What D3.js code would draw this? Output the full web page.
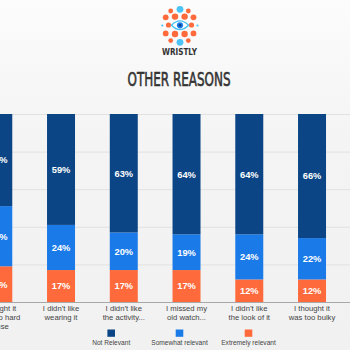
<!DOCTYPE html>
<html>
<head>
<meta charset="utf-8">
<script src="https://cdn.jsdelivr.net/npm/d3@7"></script>
<style>
  body { margin: 0; background: #f3f3f3; }
  svg { display: block; }
</style>
</head>
<body>
<div id="chart"></div>
<script>
var categories = ["too hard", "wearing", "activity", "watch", "look", "bulky"];
var labelLines = [
    ["I thought it", "was too hard", "to use"],
    ["I didn\u2019t like", "wearing it"],
    ["I didn\u2019t like", "the activity..."],
    ["I missed my", "old watch..."],
    ["I didn\u2019t like", "the look of it"],
    ["I thought it", "was too bulky"]
];
var seriesNames = ["Not Relevant", "Somewhat relevant", "Extremely relevant"];
var notRelevant = [49, 59, 63, 64, 64, 66];
var somewhatRelevant = [32, 24, 20, 19, 24, 22];
var extremelyRelevant = [19, 17, 17, 17, 12, 12];
var gridTicks = [20, 40, 60, 80, 100];

function init() {
    var w = 350;
    var h = 350;
    var colors = { "Not Relevant": "#0b4585", "Somewhat relevant": "#1a7ae8", "Extremely relevant": "#fe6a3c" };

    var svg = d3.select("#chart")
        .append("svg")
        .attr("width", w)
        .attr("height", h);

    var grad = svg.append("defs").append("linearGradient")
        .attr("id", "bg").attr("x1", 0).attr("y1", 0).attr("x2", 0).attr("y2", 1);
    grad.append("stop").attr("offset", "0%").attr("stop-color", "#fcfcfc");
    grad.append("stop").attr("offset", "40%").attr("stop-color", "#f4f4f4");
    grad.append("stop").attr("offset", "100%").attr("stop-color", "#f1f1f1");
    svg.append("rect").attr("width", w).attr("height", h).attr("fill", "url(#bg)");

    drawLogo(svg);

    svg.append("text")
        .attr("x", 179).attr("y", 86)
        .attr("text-anchor", "middle")
        .attr("textLength", 103)
        .attr("lengthAdjust", "spacingAndGlyphs")
        .style("font-family", "'DejaVu Sans Condensed', 'DejaVu Sans'")
        .style("font-size", "19.5px")
        .attr("fill", "#333")
        .attr("stroke", "#333")
        .attr("stroke-width", 0.6)
        .text("OTHER REASONS");

    var data = categories.map(function(c, i) {
        return {
            cat: c,
            "Not Relevant": notRelevant[i],
            "Somewhat relevant": somewhatRelevant[i],
            "Extremely relevant": extremelyRelevant[i]
        };
    });

    var xScale = d3.scaleBand()
        .domain(categories)
        .range([-33.1, 343.4])
        .paddingInner(0.554)
        .paddingOuter(0.277);

    var yScale = d3.scaleLinear()
        .domain([0, 100])
        .range([302, 114]);

    // gridlines
    svg.append("g")
        .selectAll("line")
        .data(gridTicks)
        .enter()
        .append("line")
        .attr("x1", 0).attr("x2", w)
        .attr("y1", function(d) { return yScale(d) + 0.5; })
        .attr("y2", function(d) { return yScale(d) + 0.5; })
        .attr("stroke", "#e1e1e1")
        .attr("stroke-width", 1);

    // stack from bottom: extremely, somewhat, not relevant
    var stack = d3.stack().keys(["Extremely relevant", "Somewhat relevant", "Not Relevant"]);
    var layers = stack(data);

    var groups = svg.selectAll("g.layer")
        .data(layers)
        .enter()
        .append("g")
        .attr("class", "layer")
        .attr("fill", function(d) { return colors[d.key]; });

    groups.selectAll("rect")
        .data(function(d) { return d; })
        .enter()
        .append("rect")
        .attr("x", function(d) { return xScale(d.data.cat); })
        .attr("y", function(d) { return yScale(d[1]); })
        .attr("width", xScale.bandwidth())
        .attr("height", function(d) { return yScale(d[0]) - yScale(d[1]); });

    groups.selectAll("text")
        .data(function(d) { return d; })
        .enter()
        .append("text")
        .attr("x", function(d) { return xScale(d.data.cat) + xScale.bandwidth() / 2; })
        .attr("y", function(d) { return (yScale(d[0]) + yScale(d[1])) / 2 + 3.4; })
        .attr("text-anchor", "middle")
        .attr("fill", "#fff")
        .style("font-family", "'Liberation Sans', Arial")
        .style("font-weight", "bold")
        .style("font-size", "9.3px")
        .text(function(d) { return (d[1] - d[0]) + "%"; });

    // baseline
    svg.append("line")
        .attr("x1", 0).attr("x2", w)
        .attr("y1", 302.5).attr("y2", 302.5)
        .attr("stroke", "#a8a8a8")
        .attr("stroke-width", 1);

    // category labels
    var labels = svg.append("g")
        .selectAll("text")
        .data(categories)
        .enter()
        .append("text")
        .attr("text-anchor", "middle")
        .attr("fill", "#444")
        .style("font-family", "'Liberation Sans', Arial")
        .style("font-size", "7.7px");

    labels.selectAll("tspan")
        .data(function(d, i) {
            return labelLines[i].map(function(t) { return { cat: d, t: t }; });
        })
        .enter()
        .append("tspan")
        .attr("x", function(d) { return xScale(d.cat) + xScale.bandwidth() / 2; })
        .attr("y", function(d, j) { return 310.5 + j * 9; })
        .text(function(d) { return d.t; });

    // legend
    var legendX = [111.2, 179.5, 248.5];
    var legend = svg.selectAll("g.legend")
        .data(seriesNames)
        .enter()
        .append("g")
        .attr("class", "legend")
        .attr("transform", function(d, i) { return "translate(" + legendX[i] + ",0)"; });

    legend.append("rect")
        .attr("x", -3.8).attr("y", 329.5)
        .attr("width", 7.6).attr("height", 7.3)
        .attr("fill", function(d) { return colors[d]; });

    legend.append("text")
        .attr("y", 345)
        .attr("text-anchor", "middle")
        .attr("fill", "#444")
        .style("font-family", "'Liberation Sans', Arial")
        .style("font-size", "6.6px")
        .text(function(d) { return d; });
}

function drawLogo(svg) {
    var g = svg.append("g");
    var orange = "#fe6a3c";
    var lblue = "#4cc3f5";
    var dots = [
        [170.7, 11, 2.4, orange], [188.3, 11, 2.4, orange],
        [165.7, 17.3, 2.9, orange], [175, 16.6, 3.2, orange], [184.6, 16.6, 3.2, orange], [193.5, 17.3, 2.9, orange],
        [168.5, 25, 2.6, orange], [191.5, 25, 2.6, orange],
        [162.3, 25.5, 1.1, lblue], [197.5, 25.5, 1.1, lblue],
        [165.7, 33.4, 2.9, orange], [175, 34, 3.2, orange], [184.6, 34, 3.2, orange], [193.5, 33.4, 2.9, orange],
        [170.7, 40.6, 2.4, orange], [188.3, 40.6, 2.4, orange],
        [180, 9.3, 3.4, lblue], [180, 42.3, 3.4, lblue]
    ];
    g.selectAll("circle.dot")
        .data(dots)
        .enter()
        .append("circle")
        .attr("cx", function(d) { return d[0]; })
        .attr("cy", function(d) { return d[1]; })
        .attr("r", function(d) { return d[2]; })
        .attr("fill", function(d) { return d[3]; });

    g.append("path")
        .attr("d", "M171.5,25.3 Q180,16.5 188.5,25.3 Q180,34 171.5,25.3 Z")
        .attr("fill", "#fff")
        .attr("stroke", lblue)
        .attr("stroke-width", 1.4);
    g.append("circle").attr("cx", 180).attr("cy", 25.3).attr("r", 3.1).attr("fill", "#1a7ae8");
    g.append("circle").attr("cx", 180).attr("cy", 25.3).attr("r", 1.3).attr("fill", "#0b3d7a");

    g.append("text")
        .attr("x", 179.5).attr("y", 54.5)
        .attr("text-anchor", "middle")
        .attr("textLength", 35)
        .attr("lengthAdjust", "spacingAndGlyphs")
        .style("font-family", "'DejaVu Sans', Arial")
        .style("font-weight", "bold")
        .style("font-size", "8px")
        .attr("fill", "#333")
        .text("WRISTLY");
}

window.onload = init;
</script>
</body>
</html>
